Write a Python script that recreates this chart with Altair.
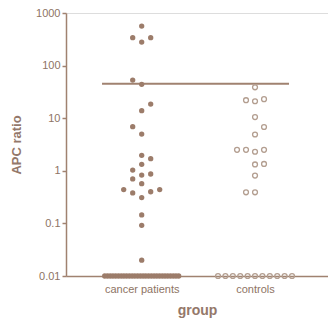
import altair as alt
import numpy as np
import pandas as pd

groups = ["cancer patients", "controls"]

cancer_values = [565, 340, 340, 280, 53, 44, 18.6, 13.9, 6.9, 5.0, 1.97, 1.7,
                 1.33, 1.03, 0.87, 0.83, 0.70, 0.57, 0.44, 0.40, 0.38, 0.44,
                 0.31, 0.145, 0.092, 0.02]
cancer_floor_count = 28

control_values = [38.7, 22, 21, 23, 10.5, 6.8, 4.9, 2.5, 2.3, 2.5, 2.5, 1.35,
                  1.32, 0.81, 0.39, 0.39]
control_floor_count = 11

floor_value = 0.01
cutoff_value = 45
y_ticks = [0.01, 0.1, 1, 10, 100, 1000]

# ---- layout helpers (computed from the values) ----
W, H = 262, 263
x_dom = [-0.668, 1.644]
px_per_unit = W / (x_dom[1] - x_dom[0])
px_per_decade = H / 5.0
slot_units = 9.0 / px_per_unit
floor_half = 37.0 / px_per_unit


def swarm(vals, thresh_px=8.0):
    ys = [np.log10(v) * px_per_decade for v in vals]
    order = np.argsort(ys)
    placed = []
    slots = [0] * len(vals)
    toggle = 1
    for i in order:
        cands = [0]
        for k in range(1, 6):
            cands += [-k * toggle, k * toggle]
        for s in cands:
            if all(not (ps == s and abs(py - ys[i]) < thresh_px) for ps, py in placed):
                slots[i] = s
                placed.append((s, ys[i]))
                if s != 0:
                    toggle = -toggle
                break
    return slots


rows = []
for gi, (vals, nfloor) in enumerate([(cancer_values, cancer_floor_count),
                                      (control_values, control_floor_count)]):
    for v, s in zip(vals, swarm(vals)):
        rows.append({"group": groups[gi], "gi": gi, "x": gi + s * slot_units, "value": v})
    for off in np.linspace(-floor_half, floor_half, nfloor):
        rows.append({"group": groups[gi], "gi": gi, "x": gi + off, "value": floor_value})
df = pd.DataFrame(rows)

line_df = pd.DataFrame({"x": [-0.35], "x2": [1.30], "value": [cutoff_value]})

brown = "#a08270"
text_col = "#8e7464"

xscale = alt.Scale(domain=x_dom, nice=False, zero=False)
yscale = alt.Scale(type="log", domain=[0.01, 1000], nice=False)

base = alt.Chart(df)

cancer = base.transform_filter(alt.datum.gi == 0).mark_point(
    filled=True, size=28, opacity=1, color="#9c7c6a", clip=False
).encode(
    x=alt.X("x:Q", scale=xscale, axis=alt.Axis(
        values=[0, 1], title="group", grid=False, ticks=False,
        labelExpr="datum.value == 0 ? 'cancer patients' : 'controls'",
        labelFontSize=11, labelColor=text_col, labelPadding=7, labelFont="Liberation Sans",
        titleFontSize=14, titleColor="#94786a", titleFont="Liberation Sans", titleFontWeight="bold",
        titlePadding=9, domainColor=brown, domainWidth=1.5, labelFlush=False)),
    y=alt.Y("value:Q", scale=yscale, axis=alt.Axis(
        values=y_ticks, title="APC ratio", grid=False, tickSize=4, tickColor=brown,
        tickWidth=1.5, domainColor=brown, domainWidth=1.5,
        labelExpr="datum.value >= 1 ? format(datum.value, 'd') : format(datum.value, '.2~f')",
        labelFontSize=11, labelColor=text_col, labelFont="Liberation Sans",
        titleFontSize=13, titleColor="#94786a", titleFont="Liberation Sans",
        titleFontWeight="bold", titlePadding=12)),
)

controls = base.transform_filter(alt.datum.gi == 1).mark_point(
    filled=False, size=24, strokeWidth=1.3, opacity=1, color="#b39e90", clip=False
).encode(x=alt.X("x:Q", scale=xscale), y=alt.Y("value:Q", scale=yscale))

cut = alt.Chart(line_df).mark_rule(color=brown, strokeWidth=2).encode(
    x=alt.X("x:Q", scale=xscale), x2="x2:Q", y=alt.Y("value:Q", scale=yscale))

chart = alt.layer(cut, cancer, controls).properties(
    width=W, height=H,
    padding={"left": 66, "top": 13, "right": 0, "bottom": 45},
    autosize="none",
).configure_view(stroke=None).configure(background="white")

chart.save("out.html", embed_options={"renderer": "svg", "actions": False})
